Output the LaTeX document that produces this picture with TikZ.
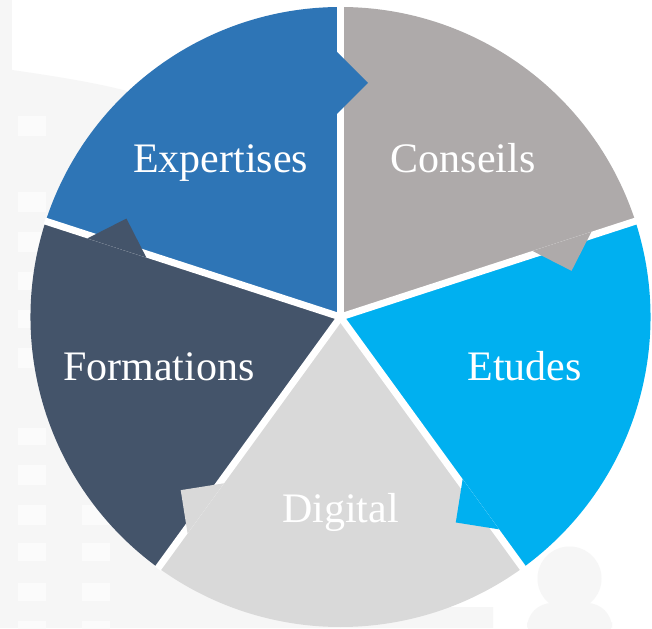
\documentclass[tikz,border=0pt]{standalone}
\usepackage{fontspec}
\setmainfont{Liberation Serif}
\definecolor{cExp}{HTML}{2E75B6}
\definecolor{cCon}{HTML}{AEAAAA}
\definecolor{cEtu}{HTML}{00B0F0}
\definecolor{cDig}{HTML}{D9D9D9}
\definecolor{cFor}{HTML}{44546A}
\definecolor{bgA}{HTML}{F6F6F6}
\definecolor{bgB}{HTML}{FBFBFB}
\begin{document}
\begin{tikzpicture}[x=1pt,y=1pt,
  lbl/.style={text=white, font=\fontsize{42}{50}\selectfont, anchor=base, inner sep=0pt},
  gapline/.style={draw=white, line width=7pt},
  win/.style={fill=bgB},
  bld/.style={fill=bgA}]
\useasboundingbox (-340.5,-311) rectangle (311.5,317);
\fill[white] (-340.5,-311) rectangle (311.5,317);
% faint background: building on the left
\fill[bld] (-340.5,317) -- (-328.5,317) -- (-328.5,247)
  .. controls (-280,240) and (-230,232) .. (-196.5,221)
  -- (-100,200) -- (-100,-290) -- (152.5,-290) -- (152.5,-311) -- (-340.5,-311) -- cycle;
\foreach \a/\b in {116/136,192/212,232/252,272/290,310/328,348/368,428/445,465/485,505/525,543/561,583/601,621/637}
  \fill[win] (-322.5,{317-\a}) rectangle (-294.5,{317-\b});
\foreach \a/\b in {505/525,543/561,583/601,621/637}
  \fill[win] (-258.5,{317-\a}) rectangle (-230.5,{317-\b});
% faint person silhouette bottom right
\fill[bld] (229,-261.5) circle[radius=32];
\fill[bld, rounded corners=25pt] (186.5,-330) rectangle (271.5,-286);
% sectors
\fill[cExp] (0,0) -- (90:310) arc[start angle=90, end angle=162, radius=310] -- cycle;
\fill[cCon] (0,0) -- (18:310) arc[start angle=18, end angle=90, radius=310] -- cycle;
\fill[cEtu] (0,0) -- (-54:310) arc[start angle=-54, end angle=18, radius=310] -- cycle;
\fill[cDig] (0,0) -- (-126:310) arc[start angle=-126, end angle=-54, radius=310] -- cycle;
\fill[cFor] (0,0) -- (162:310) arc[start angle=162, end angle=234, radius=310] -- cycle;
% gaps
\foreach \t in {90,18,-54,-126,162}
  \draw[gapline] (0,0) -- (\t:311);
% tabs
\foreach \t/\c in {90/cExp,18/cCon,-54/cEtu,-126/cDig,162/cFor}
  \fill[\c, rotate=\t] (203,3.5) -- (234,-27.5) -- (265,3.5) -- cycle;
% labels
\node[lbl] (exp) at (-119.7,144.3) {Expertises};
\node[lbl] (con) at (122.8,144.3) {Conseils};
\node[lbl] (for) at (-181.5,-64) {Formations};
\node[lbl] (etu) at (184,-64) {Etudes};
\node[lbl] (dig) at (0,-205.7) {Digital};
\end{tikzpicture}
\end{document}
